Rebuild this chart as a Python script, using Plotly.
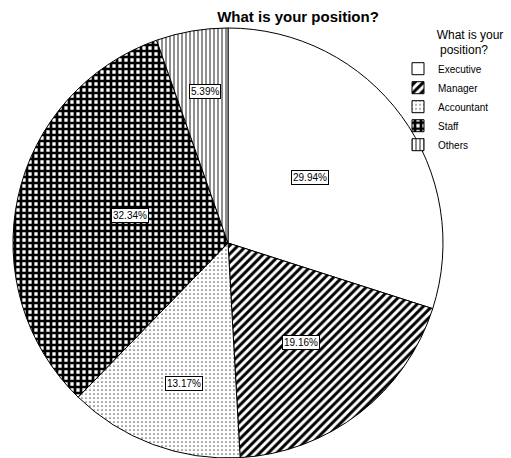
import math
import plotly.graph_objects as go

categories = ["Executive", "Manager", "Accountant", "Staff", "Others"]
counts = [50, 32, 22, 54, 9]
pct_labels = ["29.94%", "19.16%", "13.17%", "32.34%", "5.39%"]

W, H = 511, 458
CX, CY, R = 228, 243, 215

patterns = [
    dict(shape="", fgcolor="black", bgcolor="white", size=6, solidity=0.3),
    dict(shape="/", fgcolor="black", bgcolor="white", size=6, solidity=0.5),
    dict(shape=".", fgcolor="#666666", bgcolor="white", size=4, solidity=0.15),
    dict(shape="+", fgcolor="black", bgcolor="white", size=6, solidity=0.7),
    dict(shape="|", fgcolor="#444444", bgcolor="white", size=4, solidity=0.3),
]

pie = go.Pie(
    labels=categories,
    values=counts,
    sort=False,
    direction="clockwise",
    rotation=0,
    textinfo="none",
    hoverinfo="label+percent",
    marker=dict(
        colors=["white"] * 5,
        line=dict(color="black", width=1),
        pattern=dict(
            shape=[p["shape"] for p in patterns],
            fgcolor=[p["fgcolor"] for p in patterns],
            bgcolor=[p["bgcolor"] for p in patterns],
            size=[p["size"] for p in patterns],
            solidity=[p["solidity"] for p in patterns],
        ),
    ),
    domain=dict(x=[(CX - R) / W, (CX + R) / W], y=[1 - (CY + R) / H, 1 - (CY - R) / H]),
)

fig = go.Figure(pie)

# label placement (styling): radial fraction and small angle shift per slice
label_radius = [0.49, 0.60, 0.72, 0.56, 0.745]
label_shift = [-2.5, 3.4, -4, 0.6, 1.6]
total = sum(counts)
cum = 0
annotations = []
for i, v in enumerate(counts):
    mid = (cum + v / 2) / total * 360 + label_shift[i]
    cum += v
    rr = R * label_radius[i]
    px = CX + rr * math.sin(math.radians(mid))
    py = CY - rr * math.cos(math.radians(mid))
    annotations.append(dict(
        x=px / W, y=1 - py / H, xref="paper", yref="paper",
        text=pct_labels[i], showarrow=False,
        font=dict(family="Liberation Sans, Arial", size=10, color="black"),
        bgcolor="white", bordercolor="black", borderwidth=1, borderpad=1,
    ))

pad1 = "&nbsp;" * 11
pad2 = "&nbsp;" * 12
fig.update_layout(
    width=W, height=H,
    margin=dict(l=0, r=0, t=0, b=0, autoexpand=False),
    paper_bgcolor="white",
    plot_bgcolor="white",
    title=dict(
        text="<b>What is your position?</b>",
        x=298 / W, xanchor="center", y=1 - 17 / H, yanchor="middle",
        font=dict(family="Liberation Sans, Arial", size=15, color="black"),
    ),
    legend=dict(
        x=398 / W, xanchor="left", y=1 - 23 / H, yanchor="top",
        bgcolor="rgba(0,0,0,0)",
        font=dict(family="Liberation Sans, Arial", size=10, color="black"),
        title=dict(text=pad1 + "What is your<br>" + pad2 + "position?", side="top",
                   font=dict(family="Liberation Sans, Arial", size=12, color="black")),
        tracegroupgap=0, itemwidth=30,
    ),
    annotations=annotations,
)

fig.write_html("out.html", config={"displayModeBar": False},
               post_script="document.body.style.margin='0';")
